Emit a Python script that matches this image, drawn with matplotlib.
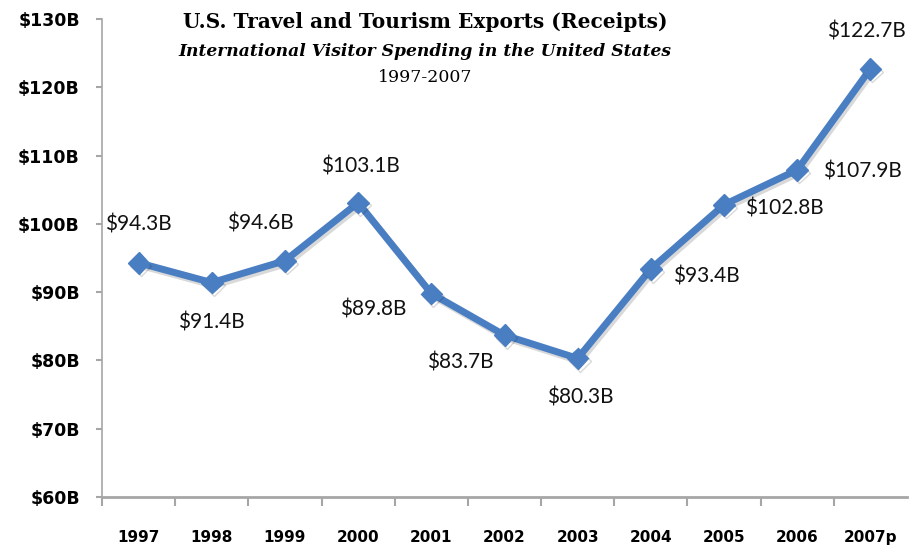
import matplotlib
matplotlib.use("Agg")
import matplotlib.pyplot as plt
import matplotlib.patheffects as pe

years = ["1997", "1998", "1999", "2000", "2001", "2002", "2003",
         "2004", "2005", "2006", "2007p"]
receipts = [94.3, 91.4, 94.6, 103.1, 89.8, 83.7, 80.3, 93.4, 102.8, 107.9, 122.7]
y_ticks = [60, 70, 80, 90, 100, 110, 120, 130]

# label placement in pixels relative to each point (dx, dy, horizontal align)
label_pos = [
    (0, 38, "center"), (0, -40, "center"), (-25, 37, "center"), (2, 36, "center"),
    (-25, -16, "right"), (-44, -27, "center"), (3, -39, "center"),
    (22, -8, "left"), (21, -4, "left"), (26, -2, "left"), (-4, 37, "center"),
]

BLUE = "#4A7EC2"
GRAY = "#A6A6A6"

fig = plt.figure(figsize=(9.23, 5.45), dpi=100)
ax = fig.add_axes([102 / 923, 48 / 545, 805 / 923, 478 / 545])

xs = list(range(len(years)))
ax.plot(xs, receipts, color=BLUE, linewidth=5, marker="D", markersize=11,
        markeredgecolor=BLUE, markerfacecolor=BLUE, solid_joinstyle="miter",
        path_effects=[pe.SimpleLineShadow(offset=(1.5, -2), alpha=0.15), pe.Normal()],
        zorder=3)

for x, v, (dx, dy, ha) in zip(xs, receipts, label_pos):
    ax.annotate(f"${v:.1f}B", (x, v), xytext=(dx, dy), textcoords="offset pixels",
                ha=ha, va="center", fontsize=15, family="Lato", color="#111111")

ax.set_xlim(-0.5, len(years) - 0.5)
ax.set_ylim(60, 130)

# ticks between categories, labels at category centres
ax.set_xticks([i - 0.5 for i in range(len(years))])
ax.set_xticklabels([])
ax.set_xticks(xs, minor=True)
ax.set_xticklabels(years, minor=True, fontsize=11, fontweight="bold",
                   family="DejaVu Sans")
ax.tick_params(axis="x", which="major", length=6.5, width=1.5, color=GRAY)
ax.tick_params(axis="x", which="minor", length=0, pad=24)

ax.set_yticks(y_ticks)
ax.set_yticklabels([f"${t}B" for t in y_ticks], fontsize=12.5, fontweight="bold",
                   family="DejaVu Sans")
ax.tick_params(axis="y", length=4, width=1.5, color=GRAY, pad=12)

for side in ("top", "right"):
    ax.spines[side].set_visible(False)
for side in ("left", "bottom"):
    ax.spines[side].set_color(GRAY)
ax.spines["left"].set_linewidth(1.2)
ax.spines["bottom"].set_linewidth(2)

fig.text(425 / 923, 1 - 22 / 545, "U.S. Travel and Tourism Exports (Receipts)",
         ha="center", va="center", fontsize=14.5, fontweight="bold",
         family="DejaVu Serif")
fig.text(425 / 923, 1 - 52 / 545, "International Visitor Spending in the United States",
         ha="center", va="center", fontsize=12.3, fontweight="bold", style="italic",
         family="DejaVu Serif")
fig.text(425 / 923, 1 - 77 / 545, "1997-2007", ha="center", va="center",
         fontsize=12.5, family="DejaVu Serif")

fig.savefig("out.png", dpi=100)
